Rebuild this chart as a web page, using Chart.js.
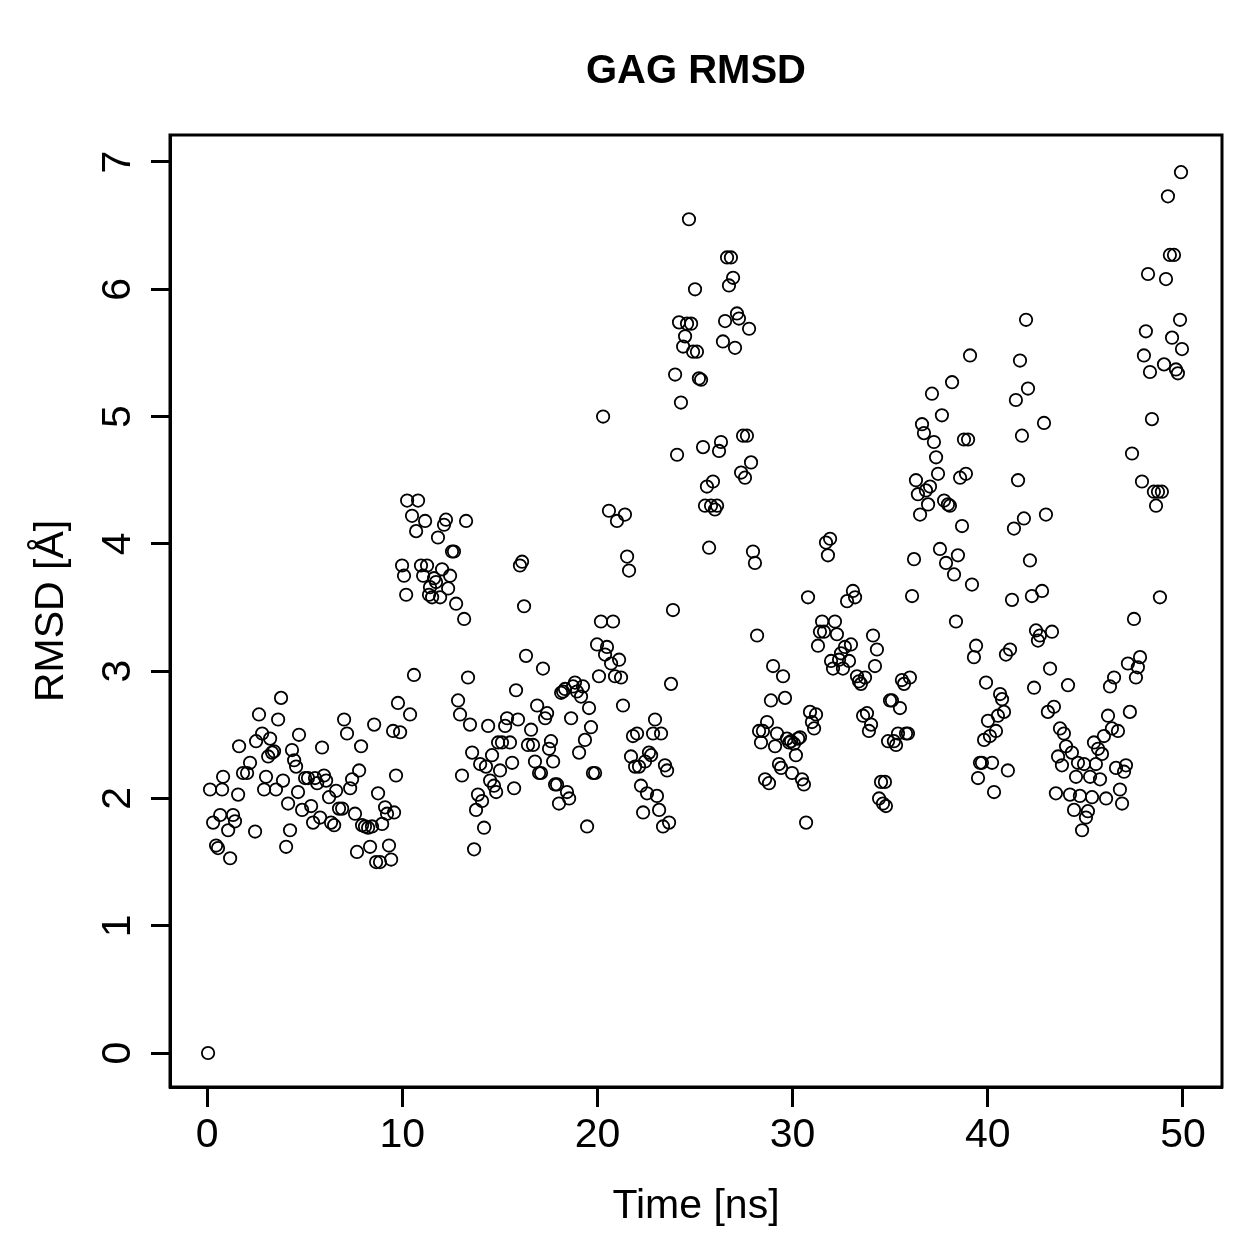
<!DOCTYPE html>
<html>
<head>
<meta charset="utf-8">
<script src="https://cdn.jsdelivr.net/npm/chart.js@4.4.1/dist/chart.umd.min.js"></script>
<style>
  html, body { margin: 0; padding: 0; background: #fff; }
  #wrap { width: 1259px; height: 1259px; }
</style>
</head>
<body>
<div id="wrap"><canvas id="chart" width="1259" height="1259"></canvas></div>
<script>
// GAG RMSD vs. simulation time
const time = [
  0.05, 0.15, 0.31, 0.46, 0.56, 0.67, 0.77, 0.82, 1.08, 1.18, 1.33, 1.43, 1.59, 1.64, 1.84, 2.05, 2.20, 2.46, 2.51, 2.66,
  2.82, 2.92, 3.02, 3.13, 3.23, 3.33, 3.43, 3.53, 3.64, 3.79, 3.89, 4.05, 4.15, 4.25, 4.35, 4.46, 4.56, 4.66, 4.71, 4.87,
  5.02, 5.17, 5.33, 5.43, 5.53, 5.64, 5.79, 5.89, 5.99, 6.10, 6.25, 6.35, 6.51, 6.61, 6.76, 6.92, 7.02, 7.17, 7.33, 7.43,
  7.58, 7.68, 7.79, 7.89, 7.94, 8.09, 8.25, 8.35, 8.45, 8.56, 8.66, 8.76, 8.86, 8.97, 9.12, 9.22, 9.32, 9.43, 9.53, 9.58,
  9.68, 9.78, 9.89,
  9.99, 10.09, 10.20, 10.25, 10.40, 10.50, 10.60, 10.71, 10.81, 10.96, 11.07, 11.17, 11.27, 11.37, 11.42, 11.53, 11.63, 11.73, 11.83, 11.94,
  12.04, 12.14, 12.24, 12.35, 12.45, 12.55, 12.65, 12.76, 12.86, 12.96, 13.06, 13.17, 13.27, 13.37, 13.47, 13.58, 13.68, 13.78, 13.88, 13.99,
  14.09, 14.19, 14.29, 14.40, 14.50, 14.60, 14.70, 14.81, 14.91, 15.01, 15.11, 15.27, 15.37, 15.52, 15.63, 15.73, 15.83, 15.93, 16.03, 16.14,
  16.24, 16.34, 16.44, 16.60, 16.70, 16.80, 16.91, 17.01, 17.11, 17.21, 17.32, 17.42, 17.52, 17.62, 17.73, 17.83, 17.93, 18.03, 18.14, 18.24,
  18.34, 18.44, 18.55, 18.65, 18.75, 18.85, 18.95, 19.06, 19.16, 19.26, 19.36, 19.47, 19.57, 19.67, 19.77, 19.88, 19.98,
  20.08, 20.18, 20.29, 20.39, 20.49, 20.59, 20.70, 20.80, 20.90, 21.00, 21.11, 21.21, 21.31, 21.41, 21.52, 21.62, 21.72, 21.82, 21.93, 22.03,
  22.13, 22.23, 22.34, 22.44, 22.54, 22.64, 22.75, 22.85, 22.95, 23.05, 23.16, 23.26, 23.36, 23.46, 23.57, 23.67, 23.77, 23.87, 23.98, 24.08,
  24.18, 24.28, 24.39, 24.49, 24.59, 24.69, 24.80, 24.90, 25.00, 25.10, 25.20, 25.31, 25.41, 25.51, 25.61, 25.72, 25.82, 25.92, 26.02, 26.13,
  26.23, 26.33, 26.43, 26.54, 26.64, 26.74, 26.84, 26.95, 27.05, 27.15, 27.25, 27.36, 27.46, 27.56, 27.66, 27.77, 27.87, 27.97, 28.07, 28.18,
  28.28, 28.38, 28.48, 28.59, 28.69, 28.79, 28.89, 29.00, 29.10, 29.20, 29.30, 29.41, 29.51, 29.61, 29.71, 29.82, 29.92, 29.97,
  30.07, 30.17, 30.28, 30.38, 30.48, 30.58, 30.69, 30.79, 30.89, 30.99, 31.10, 31.20, 31.30, 31.40, 31.51, 31.61, 31.71, 31.81, 31.92, 31.97,
  32.07, 32.17, 32.27, 32.38, 32.48, 32.58, 32.68, 32.79, 32.89, 32.99, 33.09, 33.20, 33.30, 33.40, 33.50, 33.61, 33.71, 33.81, 33.91, 34.02,
  34.12, 34.22, 34.32, 34.43, 34.53, 34.63, 34.73, 34.78, 34.89, 34.99, 35.09, 35.19, 35.30, 35.40, 35.50, 35.60, 35.71, 35.81, 35.91, 36.01,
  36.12, 36.22, 36.32, 36.42, 36.53, 36.63, 36.73, 36.83, 36.94, 37.04, 37.14, 37.24, 37.35, 37.45, 37.55, 37.65, 37.76, 37.86, 37.96, 38.06,
  38.17, 38.27, 38.37, 38.47, 38.58, 38.68, 38.78, 38.88, 38.99, 39.09, 39.19, 39.29, 39.40, 39.50, 39.60, 39.70, 39.81, 39.91, 40.01,
  40.11, 40.22, 40.32, 40.42, 40.52, 40.63, 40.73, 40.83, 40.93, 41.03, 41.14, 41.24, 41.34, 41.44, 41.55, 41.65, 41.75, 41.85, 41.96, 42.06,
  42.16, 42.26, 42.37, 42.47, 42.57, 42.67, 42.78, 42.88, 42.98, 43.08, 43.19, 43.29, 43.39, 43.49, 43.60, 43.70, 43.80, 43.90, 44.01, 44.11,
  44.21, 44.31, 44.42, 44.52, 44.62, 44.72, 44.83, 44.93, 45.03, 45.13, 45.24, 45.34, 45.44, 45.54, 45.65, 45.75, 45.85, 45.95, 46.06, 46.16,
  46.26, 46.36, 46.47, 46.57, 46.67, 46.77, 46.88, 46.98, 47.08, 47.18, 47.28, 47.39, 47.49, 47.59, 47.69, 47.80, 47.90, 48.00, 48.10, 48.21,
  48.31, 48.41, 48.51, 48.62, 48.72, 48.82, 48.92, 49.03, 49.13, 49.23, 49.33, 49.44, 49.54, 49.64, 49.74, 49.85, 49.95, 49.90
];
const rmsd = [
  0.00, 2.07, 1.81, 1.63, 1.61, 1.87, 2.07, 2.17, 1.75, 1.53, 1.87, 1.82, 2.03, 2.41, 2.20, 2.20, 2.28, 1.74, 2.45, 2.66,
  2.51, 2.07, 2.17, 2.33, 2.47, 2.36, 2.37, 2.07, 2.62, 2.79, 2.14, 1.62, 1.96, 1.75, 2.38, 2.30, 2.25, 2.05, 2.50, 1.91,
  2.16, 2.16, 1.94, 1.81, 2.16, 2.12, 1.85, 2.40, 2.18, 2.14, 2.01, 1.81, 1.79, 2.06, 1.92, 1.92, 2.62, 2.51, 2.08, 2.15,
  1.88, 1.58, 2.22, 2.41, 1.79, 1.78, 1.77, 1.62, 1.78, 2.58, 1.50, 2.04, 1.50, 1.80, 1.93, 1.88, 1.63, 1.52, 2.53, 1.89,
  2.18, 2.75, 2.52,
  3.83, 3.75, 3.60, 4.34, 2.66, 4.22, 2.97, 4.10, 4.34, 3.83, 3.75, 4.18, 3.83, 3.60, 3.66, 3.58, 3.73, 3.70, 4.05, 3.58,
  3.80, 4.15, 4.19, 3.65, 3.75, 3.94, 3.94, 3.53, 2.77, 2.66, 2.18, 3.41, 4.18, 2.95, 2.58, 2.36, 1.60, 1.91, 2.03, 2.27,
  1.98, 1.77, 2.25, 2.57, 2.14, 2.34, 2.10, 2.05, 2.44, 2.22, 2.44, 2.57, 2.63, 2.44, 2.28, 2.08, 2.85, 2.62, 3.83, 3.86,
  3.51, 3.12, 2.42, 2.54, 2.42, 2.29, 2.73, 2.20, 2.20, 3.02, 2.63, 2.67, 2.39, 2.45, 2.29, 2.11, 2.11, 1.96, 2.83, 2.84,
  2.86, 2.05, 2.00, 2.63, 2.88, 2.91, 2.84, 2.36, 2.80, 2.88, 2.46, 1.78, 2.71, 2.56, 2.20, 2.20, 3.21,
  2.96, 3.39, 5.00, 3.13, 3.19, 4.26, 3.06, 3.39, 2.96, 4.18, 3.09, 2.95, 2.73, 4.23, 3.90, 3.79, 2.33, 2.49, 2.25, 2.51,
  2.25, 2.10, 1.89, 2.29, 2.04, 2.36, 2.34, 2.51, 2.62, 2.02, 1.91, 2.51, 1.78, 2.26, 2.22, 1.81, 2.90, 3.48, 5.33, 4.70,
  5.74, 5.11, 5.55, 5.63, 5.73, 6.55, 5.73, 5.51, 6.00, 5.51, 5.30, 5.29, 4.76, 4.30, 4.45, 3.97, 4.30, 4.49, 4.27, 4.30,
  4.73, 4.80, 5.59, 5.75, 6.25, 6.03, 6.25, 6.09, 5.54, 5.81, 5.77, 4.56, 4.85, 4.52, 4.85, 5.69, 4.64, 3.94, 3.85, 3.28,
  2.53, 2.44, 2.53, 2.15, 2.60, 2.12, 2.77, 3.04, 2.41, 2.51, 2.27, 2.24, 2.96, 2.79, 2.47, 2.44, 2.45, 2.20,
  2.43, 2.34, 2.47, 2.48, 2.15, 2.11, 1.81, 3.58, 2.68, 2.60, 2.55, 2.66, 3.20, 3.31, 3.39, 3.31, 4.01, 3.91, 4.04, 3.08,
  3.02, 3.39, 3.29, 3.09, 3.14, 3.02, 3.19, 3.55, 3.08, 3.21, 3.63, 3.58, 2.96, 2.92, 2.90, 2.65, 2.95, 2.67, 2.53, 2.58,
  3.28, 3.04, 3.17, 2.00, 2.13, 1.96, 2.13, 1.94, 2.45, 2.77, 2.77, 2.45, 2.42, 2.51, 2.71, 2.93, 2.90, 2.51, 2.51, 2.95,
  3.59, 3.88, 4.50, 4.39, 4.23, 4.94, 4.87, 4.42, 4.31, 4.45, 5.18, 4.80, 4.68, 4.55, 3.96, 5.01, 4.34, 3.85, 4.31, 4.30,
  5.27, 3.76, 3.39, 3.91, 4.52, 4.14, 4.82, 4.55, 4.82, 5.48, 3.68, 3.11, 3.20, 2.16, 2.28, 2.28, 2.46, 2.91, 2.61,
  2.49, 2.28, 2.05, 2.53, 2.65, 2.82, 2.78, 2.68, 3.13, 2.22, 3.17, 3.56, 4.12, 5.13, 4.50, 5.44, 4.85, 4.20, 5.76, 5.22,
  3.87, 3.59, 2.87, 3.32, 3.24, 3.28, 3.63, 4.95, 4.23, 2.68, 3.02, 3.31, 2.72, 2.04, 2.33, 2.55, 2.26, 2.51, 2.41, 2.89,
  2.03, 2.36, 1.91, 2.17, 2.28, 2.02, 1.75, 2.27, 1.85, 1.90, 2.17, 2.01, 2.44, 2.27, 2.39, 2.15, 2.35, 2.49, 2.00, 2.65,
  2.88, 2.55, 2.95, 2.24, 2.53, 2.07, 1.96, 2.21, 2.26, 3.06, 2.68, 4.71, 3.41, 2.95, 3.03, 3.11, 4.49, 5.48, 5.67, 6.12,
  5.35, 4.98, 4.41, 4.30, 4.41, 3.58, 4.41, 5.41, 6.08, 6.73, 6.27, 5.62, 6.27, 5.37, 5.34, 5.76, 5.53, 6.92
];
const xTicks = [0, 10, 20, 30, 40, 50];
const yTicks = [0, 1, 2, 3, 4, 5, 6, 7];
const titleText = "GAG RMSD";
const xLabel = "Time [ns]";
const yLabel = "RMSD [Å]";

const points = time.map((t, i) => ({ x: t, y: rmsd[i] }));
const FONT = "'Liberation Sans', Arial, Helvetica, sans-serif";

// box, titles and rotated y tick labels, R base graphics style
const rStyle = {
  id: "rStyle",
  afterDraw(chart) {
    const ctx = chart.ctx;
    const a = chart.chartArea;
    const ys = chart.scales.y;
    ctx.save();
    ctx.strokeStyle = "#000";
    ctx.lineWidth = 3;
    ctx.strokeRect(a.left, a.top, a.right - a.left, a.bottom - a.top);

    ctx.fillStyle = "#000";
    ctx.textAlign = "center";
    ctx.textBaseline = "alphabetic";
    ctx.font = "bold 40px " + FONT;
    ctx.fillText(titleText, (a.left + a.right) / 2, 83);

    ctx.font = "41px " + FONT;
    ctx.fillText(xLabel, (a.left + a.right) / 2, 1218);

    ctx.save();
    ctx.translate(48, (a.top + a.bottom) / 2);
    ctx.rotate(-Math.PI / 2);
    ctx.fillText(yLabel, 0, 15);
    ctx.restore();

    yTicks.forEach(v => {
      ctx.save();
      ctx.translate(115, ys.getPixelForValue(v));
      ctx.rotate(-Math.PI / 2);
      ctx.fillText(String(v), 0, 15);
      ctx.restore();
    });
    ctx.restore();
  }
};

new Chart(document.getElementById("chart").getContext("2d"), {
  type: "scatter",
  data: {
    datasets: [{
      label: "RMSD",
      data: points,
      pointStyle: "circle",
      pointRadius: 6.2,
      pointBorderWidth: 1.8,
      borderColor: "#000",
      backgroundColor: "rgba(0,0,0,0)",
    }],
  },
  options: {
    responsive: false,
    animation: false,
    devicePixelRatio: 1,
    layout: { padding: { top: 135, right: 37, left: 0, bottom: 0 } },
    plugins: {
      legend: { display: false },
      title: { display: false },
      tooltip: { enabled: false },
    },
    scales: {
      x: {
        type: "linear",
        position: "bottom",
        min: -1.9,
        max: 52.0,
        afterBuildTicks: s => { s.ticks = xTicks.map(v => ({ value: v })); },
        afterFit: s => { s.height = 172; },
        ticks: { font: { family: FONT, size: 41 }, color: "#000", padding: 4, maxRotation: 0, autoSkip: false },
        grid: { drawOnChartArea: false, drawTicks: true, tickLength: 20, tickWidth: 3, tickColor: "#000" },
        border: { display: true, color: "#000", width: 3 },
      },
      y: {
        type: "linear",
        position: "left",
        min: -0.267,
        max: 7.212,
        afterBuildTicks: s => { s.ticks = yTicks.map(v => ({ value: v })); },
        afterFit: s => { s.width = 170; },
        ticks: { display: false },
        grid: { drawOnChartArea: false, drawTicks: true, tickLength: 19, tickWidth: 3, tickColor: "#000" },
        border: { display: true, color: "#000", width: 3 },
      },
    },
  },
  plugins: [rStyle],
});
</script>
</body>
</html>
